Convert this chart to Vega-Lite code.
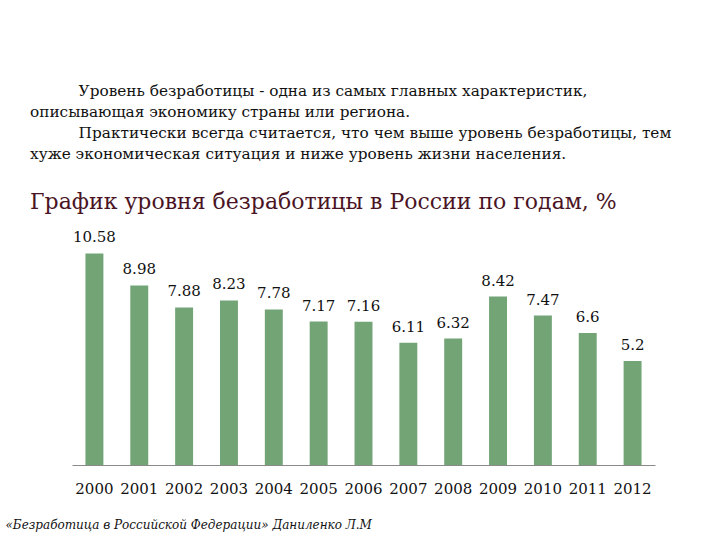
{
  "$schema": "https://vega.github.io/schema/vega-lite/v6.json",
  "autosize": "none",
  "width": 583,
  "height": 240,
  "padding": {"left": 72, "top": 225, "right": 65, "bottom": 75},
  "background": "white",
  "config": {"view": {"stroke": null}},
  "title": {
    "text": [
      "\u200b\u00a0\u00a0\u00a0\u00a0\u00a0\u00a0\u00a0\u00a0\u00a0\u00a0Уровень безработицы - одна из самых главных характеристик,",
      "описывающая экономику страны или региона.",
      "\u200b\u00a0\u00a0\u00a0\u00a0\u00a0\u00a0\u00a0\u00a0\u00a0\u00a0Практически всегда считается, что чем выше уровень безработицы, тем",
      "хуже экономическая ситуация и ниже уровень жизни населения."
    ],
    "subtitle": "График уровня безработицы в России по годам, %",
    "anchor": "start",
    "frame": "group",
    "dx": -42,
    "offset": 12,
    "font": "DejaVu Serif",
    "fontSize": 15.3,
    "fontWeight": "normal",
    "lineHeight": 21,
    "color": "#111111",
    "subtitleFont": "DejaVu Serif",
    "subtitleFontSize": 22,
    "subtitleColor": "#4a1424",
    "subtitlePadding": 30
  },
  "data": {
    "values": [
      {"year": "2000", "rate": 10.58},
      {"year": "2001", "rate": 8.98},
      {"year": "2002", "rate": 7.88},
      {"year": "2003", "rate": 8.23},
      {"year": "2004", "rate": 7.78},
      {"year": "2005", "rate": 7.17},
      {"year": "2006", "rate": 7.16},
      {"year": "2007", "rate": 6.11},
      {"year": "2008", "rate": 6.32},
      {"year": "2009", "rate": 8.42},
      {"year": "2010", "rate": 7.47},
      {"year": "2011", "rate": 6.6},
      {"year": "2012", "rate": 5.2}
    ]
  },
  "encoding": {
    "x": {
      "field": "year",
      "type": "ordinal",
      "scale": {"paddingInner": 0.6, "paddingOuter": 0.3},
      "axis": {
        "labelAngle": 0,
        "labelFont": "DejaVu Serif",
        "labelFontSize": 15,
        "labelColor": "#111111",
        "labelPadding": 16,
        "ticks": false,
        "domainColor": "#8a8a8a",
        "domainWidth": 1,
        "title": "«Безработица в Российской Федерации»  Даниленко Л.М",
        "titleFont": "DejaVu Serif",
        "titleFontStyle": "italic",
        "titleFontWeight": "normal",
        "titleFontSize": 12,
        "titleColor": "#111111",
        "titleAnchor": "start",
        "titleAlign": "left",
        "titleBaseline": "alphabetic",
        "titleX": -67,
        "titleY": 63
      }
    },
    "y": {
      "field": "rate",
      "type": "quantitative",
      "scale": {"domain": [0, 12], "nice": false},
      "axis": null
    }
  },
  "layer": [
    {"mark": {"type": "bar", "color": "#72a476"}},
    {
      "mark": {"type": "text", "dy": -16, "font": "DejaVu Serif", "fontSize": 15, "color": "#111111", "baseline": "middle"},
      "encoding": {"text": {"field": "rate", "type": "quantitative"}}
    }
  ]
}
